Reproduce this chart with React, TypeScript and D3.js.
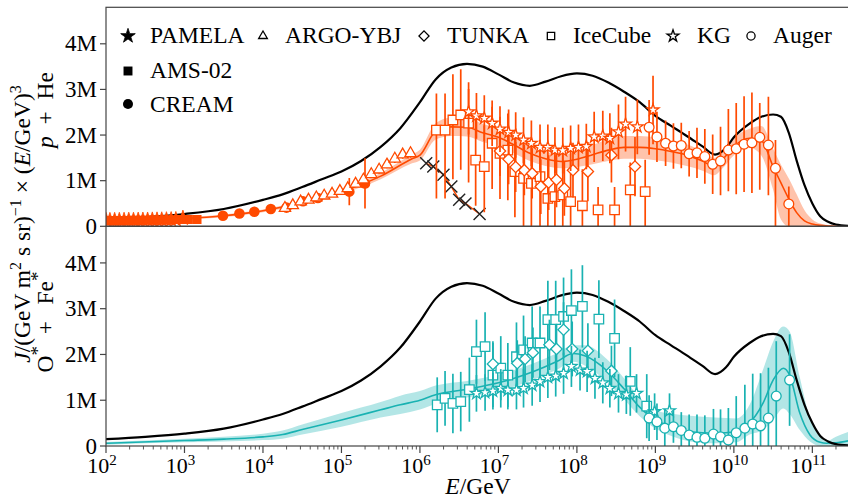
import React from "react";
import * as d3 from "d3";

// ---------------- data: energies as log10(E/GeV), fluxes in units of 1e6 ----------------
const totalLg = [2.0, 2.5, 3.0, 3.5, 4.0, 4.25, 4.5, 4.75, 5.0, 5.25, 5.5, 5.75, 6.0, 6.2, 6.4, 6.6, 6.8, 7.0, 7.2, 7.4, 7.6, 7.8, 8.0, 8.2, 8.4, 8.6, 8.8, 9.0, 9.2, 9.4, 9.6, 9.76, 9.9, 10.0, 10.2, 10.35, 10.5, 10.6, 10.7, 10.8, 10.9, 11.0, 11.1, 11.2, 11.3, 11.48];
const totalVal = [0.15, 0.2, 0.27, 0.38, 0.58, 0.7, 0.86, 1.03, 1.2, 1.43, 1.74, 2.15, 2.72, 3.22, 3.48, 3.56, 3.5, 3.33, 3.15, 3.08, 3.17, 3.29, 3.35, 3.3, 3.15, 2.95, 2.72, 2.42, 2.2, 1.98, 1.75, 1.57, 1.72, 1.95, 2.25, 2.4, 2.45, 2.4, 2.05, 1.44, 0.9, 0.5, 0.22, 0.1, 0.04, 0.01];

const phModelLg = [2.0, 2.5, 3.0, 3.5, 4.0, 4.5, 5.0, 5.5, 5.9, 6.0, 6.2, 6.4, 6.6, 6.8, 7.0, 7.2, 7.4, 7.6, 7.8, 8.0, 8.2, 8.4, 8.6, 8.8, 9.0, 9.2, 9.4, 9.6, 9.75, 9.85, 10.0, 10.2, 10.35, 10.5, 10.6, 10.7, 10.8, 10.9, 11.0, 11.1, 11.3, 11.48];
const phModelMid = [0.12, 0.14, 0.17, 0.23, 0.34, 0.52, 0.76, 1.1, 1.48, 1.56, 2.08, 2.18, 2.17, 2.05, 1.95, 1.78, 1.6, 1.48, 1.42, 1.47, 1.57, 1.67, 1.73, 1.73, 1.7, 1.64, 1.56, 1.43, 1.31, 1.45, 1.75, 1.93, 1.88, 1.31, 0.95, 0.6, 0.3, 0.12, 0.05, 0.02, 0.0, 0.0];
const phModelLo = [0.1, 0.12, 0.15, 0.2, 0.31, 0.48, 0.71, 1.03, 1.38, 1.44, 1.9, 1.98, 1.97, 1.85, 1.76, 1.6, 1.43, 1.32, 1.27, 1.3, 1.36, 1.43, 1.48, 1.48, 1.45, 1.4, 1.32, 1.22, 1.12, 1.26, 1.56, 1.72, 1.55, 0.8, 0.15, 0.0, 0.0, 0.0, 0.0, 0.0, 0.0, 0.0];
const phModelHi = [0.14, 0.16, 0.19, 0.26, 0.37, 0.56, 0.81, 1.17, 1.58, 1.68, 2.26, 2.38, 2.37, 2.25, 2.14, 1.96, 1.77, 1.64, 1.57, 1.64, 1.78, 1.91, 1.98, 1.98, 1.95, 1.88, 1.8, 1.64, 1.5, 1.64, 1.94, 2.14, 2.2, 1.7, 1.35, 1.05, 0.7, 0.35, 0.15, 0.06, 0.01, 0.0];

const ofModelLg = [2.0, 3.0, 3.5, 4.0, 4.25, 4.5, 5.0, 5.5, 5.75, 6.0, 6.2, 6.6, 7.0, 7.44, 7.75, 7.95, 8.1, 8.38, 8.6, 8.8, 9.0, 9.23, 9.44, 9.76, 10.03, 10.2, 10.37, 10.5, 10.63, 10.71, 10.84, 10.97, 11.1, 11.18, 11.3, 11.48];
const ofModelMid = [0.06, 0.12, 0.15, 0.2, 0.25, 0.36, 0.57, 0.79, 0.9, 1.0, 1.12, 1.24, 1.38, 1.62, 1.85, 2.02, 1.97, 1.65, 1.25, 0.85, 0.57, 0.42, 0.31, 0.28, 0.31, 0.5, 0.93, 1.44, 1.7, 1.55, 0.72, 0.24, 0.08, 0.06, 0.07, 0.12];
const ofModelLo = [0.03, 0.08, 0.1, 0.13, 0.16, 0.25, 0.42, 0.62, 0.7, 0.8, 0.92, 1.06, 1.2, 1.44, 1.67, 1.84, 1.76, 1.4, 1.02, 0.65, 0.38, 0.2, 0.1, 0.06, 0.08, 0.25, 0.35, 0.57, 0.82, 0.7, 0.35, 0.1, 0.0, 0.0, 0.0, 0.0];
const ofModelHi = [0.09, 0.16, 0.2, 0.27, 0.34, 0.47, 0.72, 0.96, 1.1, 1.2, 1.32, 1.42, 1.56, 1.8, 2.03, 2.2, 2.2, 1.9, 1.48, 1.05, 0.78, 0.7, 0.66, 0.62, 0.6, 0.9, 1.66, 2.28, 2.61, 2.5, 1.5, 0.6, 0.2, 0.1, 0.2, 0.32];

// p + He data
const pamelaLg = [2.0, 2.05, 2.11, 2.17, 2.23, 2.29, 2.35, 2.41, 2.47, 2.53, 2.59, 2.65, 2.71, 2.77, 2.83, 2.89, 2.98];
const pamelaVal = [0.13, 0.13, 0.131, 0.132, 0.133, 0.134, 0.134, 0.136, 0.137, 0.138, 0.14, 0.141, 0.143, 0.145, 0.147, 0.15, 0.18];
const amsLg = [2.02, 2.08, 2.14, 2.2, 2.26, 2.32, 2.38, 2.44, 2.5, 2.56, 2.62, 2.68, 2.74, 2.8, 2.86, 2.92, 2.98, 3.05, 3.16];
const amsVal = [0.125, 0.126, 0.127, 0.128, 0.13, 0.131, 0.132, 0.133, 0.135, 0.137, 0.138, 0.14, 0.142, 0.144, 0.146, 0.148, 0.15, 0.15, 0.15];
const creamLg = [3.49, 3.7, 3.89, 4.1, 4.3, 4.51, 4.7, 5.1, 5.3];
const creamVal = [0.23, 0.28, 0.32, 0.38, 0.41, 0.55, 0.62, 0.76, 0.94];
const creamErr = [0.02, 0.02, 0.03, 0.03, 0.04, 0.05, 0.06, 0.3, 0.55];
const argoLg = [4.28, 4.38, 4.48, 4.58, 4.68, 4.78, 4.88, 4.98, 5.08, 5.18, 5.28, 5.38, 5.48, 5.58, 5.68, 5.78, 5.88];
const argoVal = [0.4, 0.46, 0.54, 0.58, 0.63, 0.67, 0.71, 0.77, 0.83, 0.93, 1.02, 1.14, 1.24, 1.35, 1.48, 1.57, 1.6];
const argoErr = [0.03, 0.03, 0.03, 0.04, 0.04, 0.04, 0.05, 0.05, 0.06, 0.06, 0.07, 0.07, 0.08, 0.08, 0.09, 0.09, 0.1];
const crossLg = [6.08, 6.17, 6.3, 6.4, 6.5, 6.58, 6.76];
const crossVal = [1.38, 1.31, 1.13, 0.87, 0.58, 0.5, 0.27];
const icePhLg = [6.21, 6.32, 6.42, 6.52, 6.62, 6.71, 6.82, 6.92, 7.02, 7.12, 7.21, 7.32, 7.42, 7.53, 7.63, 7.72, 7.82, 7.92, 8.07, 8.27, 8.48, 8.68, 8.87];
const icePhVal = [2.11, 2.11, 2.33, 2.44, 2.26, 1.45, 1.31, 1.82, 1.6, 1.67, 1.2, 1.05, 0.94, 1.09, 0.61, 0.65, 0.69, 0.54, 0.45, 0.36, 0.36, 0.8, 0.76];
const icePhLo = [1.5, 1.5, 1.3, 1.2, 1.3, 1.0, 1.0, 1.0, 1.0, 1.1, 1.0, 1.05, 0.94, 1.09, 0.61, 0.65, 0.69, 0.54, 0.45, 0.36, 0.36, 0.8, 0.76];
const icePhHi = [0.8, 0.8, 1.0, 1.0, 0.9, 0.9, 0.9, 0.8, 0.8, 0.8, 0.8, 0.8, 0.8, 0.8, 0.9, 0.9, 0.9, 0.9, 0.8, 0.5, 0.5, 0.6, 0.7];
const tunkaPhLg = [7.02, 7.13, 7.22, 7.33, 7.43, 7.54, 7.64, 7.74, 7.84, 7.95, 8.14, 8.44, 8.74];
const tunkaPhVal = [1.65, 1.47, 1.3, 1.23, 1.16, 0.87, 0.96, 1.02, 0.83, 1.23, 1.2, 1.56, 1.31];
const tunkaPhErr = [0.55, 0.55, 0.55, 0.55, 0.55, 0.6, 0.6, 0.6, 0.6, 0.6, 0.65, 0.6, 0.65];
const kgPhLg = [6.62, 6.72, 6.82, 6.92, 7.02, 7.13, 7.22, 7.32, 7.42, 7.53, 7.63, 7.72, 7.82, 7.92, 8.02, 8.12, 8.22, 8.33, 8.42, 8.53, 8.62, 8.77, 8.97];
const kgPhVal = [2.51, 2.42, 2.37, 2.26, 2.13, 2.06, 2.0, 1.89, 1.82, 1.73, 1.73, 1.67, 1.66, 1.71, 1.73, 1.75, 1.96, 1.98, 1.93, 2.07, 2.24, 2.18, 2.55];
const kgPhErr = [0.5, 0.5, 0.5, 0.5, 0.5, 0.5, 0.5, 0.5, 0.5, 0.5, 0.5, 0.5, 0.5, 0.5, 0.5, 0.5, 0.55, 0.55, 0.55, 0.6, 0.6, 0.6, 0.75];
const augerPhLg = [8.92, 9.02, 9.13, 9.23, 9.33, 9.43, 9.53, 9.63, 9.73, 9.83, 9.93, 10.03, 10.13, 10.23, 10.33, 10.44, 10.53, 10.7];
const augerPhVal = [2.17, 1.96, 1.82, 1.76, 1.77, 1.59, 1.61, 1.53, 1.36, 1.43, 1.67, 1.7, 1.8, 1.83, 1.95, 1.78, 1.27, 0.49];
const augerPhLo = [0.6, 0.55, 0.5, 0.5, 0.5, 0.5, 0.55, 0.6, 0.65, 0.75, 0.9, 1.0, 1.05, 1.1, 1.15, 1.1, 1.27, 0.49];
const augerPhHi = [0.6, 0.55, 0.5, 0.5, 0.5, 0.5, 0.55, 0.6, 0.65, 0.75, 0.9, 1.0, 1.05, 1.1, 0.75, 1.06, 0.62, 0.38];

// O* + Fe* data
const iceOfLg = [6.22, 6.32, 6.42, 6.52, 6.63, 6.72, 6.83, 6.93, 7.03, 7.12, 7.23, 7.32, 7.43, 7.53, 7.63, 7.73, 7.83, 7.93, 8.07, 8.28, 8.48, 8.68, 8.89];
const iceOfVal = [0.9, 1.04, 0.93, 0.97, 1.23, 2.06, 2.17, 1.55, 1.7, 1.55, 1.95, 2.1, 2.25, 2.25, 2.76, 2.76, 2.83, 2.96, 3.05, 2.77, 2.35, 1.41, 0.87];
const iceOfErr = [0.6, 0.6, 0.65, 0.65, 0.7, 0.7, 0.75, 0.7, 0.7, 0.7, 0.75, 0.75, 0.8, 0.8, 0.85, 0.85, 0.85, 0.9, 0.9, 0.85, 0.85, 0.75, 0.7];
const tunkaOfLg = [6.93, 7.24, 7.34, 7.44, 7.65, 7.74, 7.83, 7.94, 8.14, 8.44];
const tunkaOfVal = [1.79, 1.81, 1.9, 2.04, 2.21, 2.12, 2.54, 2.12, 2.08, 1.64];
const tunkaOfErr = [0.5, 0.5, 0.5, 0.55, 0.55, 0.55, 0.6, 0.6, 0.6, 0.55];
const kgOfLg = [6.72, 6.83, 6.93, 7.03, 7.12, 7.23, 7.32, 7.43, 7.53, 7.63, 7.73, 7.83, 7.93, 8.04, 8.13, 8.23, 8.33, 8.42, 8.53, 8.63, 8.76, 8.99, 9.18];
const kgOfVal = [1.15, 1.17, 1.2, 1.26, 1.22, 1.22, 1.26, 1.33, 1.41, 1.5, 1.53, 1.59, 1.74, 1.66, 1.63, 1.48, 1.38, 1.26, 1.15, 1.12, 1.15, 0.75, 0.77];
const kgOfErr = [0.4, 0.4, 0.4, 0.42, 0.42, 0.42, 0.42, 0.45, 0.45, 0.45, 0.45, 0.45, 0.45, 0.45, 0.45, 0.45, 0.45, 0.42, 0.42, 0.42, 0.42, 0.4, 0.38];
const augerOfLg = [8.92, 9.02, 9.12, 9.23, 9.33, 9.43, 9.53, 9.63, 9.74, 9.83, 9.93, 10.03, 10.14, 10.24, 10.34, 10.44, 10.54, 10.71];
const augerOfVal = [0.61, 0.53, 0.39, 0.42, 0.34, 0.24, 0.19, 0.17, 0.26, 0.2, 0.13, 0.29, 0.39, 0.48, 0.44, 0.61, 1.09, 1.44];
const augerOfErr = [0.5, 0.4, 0.4, 0.35, 0.4, 0.45, 0.5, 0.5, 0.55, 0.6, 0.7, 0.8, 0.95, 1.1, 1.15, 1.1, 1.2, 1.0];

const yTickVals = [0, 1, 2, 3, 4];
const yTickLabels = ["0", "1M", "2M", "3M", "4M"];
const xTickExps = [2, 3, 4, 5, 6, 7, 8, 9, 10, 11];
const legendRow = [
  { name: "PAMELA", kind: "starF", mx: 128, tx: 150, sc: 2.2 },
  { name: "ARGO-YBJ", kind: "triO", mx: 263, tx: 285, sc: 0.6 },
  { name: "TUNKA", kind: "diaO", mx: 424, tx: 447, sc: 0.8 },
  { name: "IceCube", kind: "sqO", mx: 551, tx: 573, sc: 0.6 },
  { name: "KG", kind: "starO", mx: 673, tx: 697, sc: 1.0 },
  { name: "Auger", kind: "circO", mx: 751, tx: 773, sc: 0.7 },
];
const legendCol = [
  { name: "AMS-02", kind: "sqF", my: 71, ty: 78, sc: 1.0 },
  { name: "CREAM", kind: "circF", my: 104, ty: 111.7, sc: 0.9 },
];

// ---------------- layout ----------------
const ORANGE = "#ff4a00";
const TEAL = "#19b2b2";
const AX = "#444";
const FONT = "'Liberation Serif', 'DejaVu Serif', serif";
const L = 106, R = 849.8;
const TOP_T = 7.3, TOP_B = 226.3, BOT_T = 226.3, BOT_B = 446;

const E = (lg: number) => Math.pow(10, lg);
const sym = (t: any, s: number) => d3.symbol().type(t).size(s)() as string;

function Marker({ kind, cx, cy, color, scale = 1 }: any) {
  const tr = `translate(${cx},${cy})`;
  const sw = 1.3;
  switch (kind) {
    case "starF":
      return <path d={sym(d3.symbolStar, 30 * scale)} transform={tr} fill={color} stroke={color} strokeWidth={0.8} />;
    case "sqF":
      return <path d={sym(d3.symbolSquare, 80 * scale)} transform={tr} fill={color} />;
    case "circF":
      return <circle cx={cx} cy={cy} r={5.3 * Math.sqrt(scale)} fill={color} />;
    case "triO":
      return <path d={sym(d3.symbolTriangle, 55 * scale)} transform={tr} fill="white" stroke={color} strokeWidth={sw} />;
    case "diaO":
      return <path d={sym(d3.symbolSquare, 64 * scale)} transform={`${tr} rotate(45)`} fill="white" stroke={color} strokeWidth={sw} />;
    case "sqO":
      return <path d={sym(d3.symbolSquare, 90 * scale)} transform={tr} fill="white" stroke={color} strokeWidth={sw} />;
    case "starO":
      return <path d={sym(d3.symbolStar, 44 * scale)} transform={tr} fill="white" stroke={color} strokeWidth={sw} />;
    case "circO":
      return <circle cx={cx} cy={cy} r={4.9 * Math.sqrt(scale)} fill="white" stroke={color} strokeWidth={sw} />;
    case "cross":
      return <path d="M-6,-6L6,6M-6,6L6,-6" transform={tr} stroke="#222" strokeWidth={1.4} fill="none" />;
  }
  return null;
}

function Series({ x, y, lg, val, lo, hi, kind, color, scale = 1 }: any) {
  return (
    <g>
      {lo &&
        lg.map((g: number, i: number) => (
          <line key={"e" + i} x1={x(E(g))} x2={x(E(g))} y1={y(Math.max(0, val[i] - lo[i]))} y2={y(val[i] + (hi ? hi[i] : lo[i]))} stroke={color} strokeWidth={1.7} />
        ))}
      {lg.map((g: number, i: number) => (
        <Marker key={"m" + i} kind={kind} cx={x(E(g))} cy={y(val[i])} color={color} scale={scale} />
      ))}
    </g>
  );
}

export default function App() {
  const x = d3.scaleLog().domain([1e2, 3e11]).range([L, R]);
  const yT = d3.scaleLinear().domain([0, 4.8]).range([TOP_B, TOP_T]);
  const yB = d3.scaleLinear().domain([0, 4.8]).range([BOT_B, BOT_T]);

  const lineOf = (y: any, lg: number[], v: number[]) =>
    d3.line<number>().x((_, i) => x(E(lg[i]))).y((_, i) => y(v[i])).curve(d3.curveMonotoneX)(v) as string;
  const areaOf = (y: any, lg: number[], lo: number[], hi: number[]) =>
    d3.area<number>().x((_, i) => x(E(lg[i]))).y0((_, i) => y(lo[i])).y1((_, i) => y(hi[i])).curve(d3.curveMonotoneX)(lo) as string;

  const minor: number[] = [];
  for (let p = 2; p <= 11; p++) for (let m = 2; m <= 9; m++) { const v = m * Math.pow(10, p); if (v <= 3e11) minor.push(v); }

  return (
    <svg width={848} height={499} style={{ position: "absolute", left: 0, top: 0, background: "white" }} fontFamily={FONT}>
      <defs>
        <clipPath id="clipT"><rect x={L} y={TOP_T} width={R - L} height={TOP_B - TOP_T} /></clipPath>
        <clipPath id="clipB"><rect x={L} y={BOT_T} width={R - L} height={BOT_B - BOT_T} /></clipPath>
      </defs>
      <rect width={848} height={499} fill="white" />

      {/* top panel */}
      <g clipPath="url(#clipT)">
        <path d={areaOf(yT, phModelLg, phModelLo, phModelHi)} fill={ORANGE} fillOpacity={0.33} />
        <path d={lineOf(yT, phModelLg, phModelMid)} fill="none" stroke={ORANGE} strokeWidth={1.6} />
        <path d={lineOf(yT, totalLg, totalVal)} fill="none" stroke="#000" strokeWidth={2.2} />
        <Series x={x} y={yT} lg={amsLg} val={amsVal} kind="sqF" color={ORANGE} />
        <Series x={x} y={yT} lg={pamelaLg} val={pamelaVal} kind="starF" color={ORANGE} scale={2.4} />
        <Series x={x} y={yT} lg={creamLg} val={creamVal} lo={creamErr} kind="circF" color={ORANGE} />
        <Series x={x} y={yT} lg={argoLg} val={argoVal} lo={argoErr} kind="triO" color={ORANGE} />
        <path d={d3.line<number>().x((_, i) => x(E(crossLg[i]))).y((_, i) => yT(crossVal[i]))(crossVal) as string} fill="none" stroke={ORANGE} strokeWidth={1.5} />
        <Series x={x} y={yT} lg={crossLg} val={crossVal} kind="cross" color={ORANGE} />
        <Series x={x} y={yT} lg={icePhLg} val={icePhVal} lo={icePhLo} hi={icePhHi} kind="sqO" color={ORANGE} />
        <Series x={x} y={yT} lg={tunkaPhLg} val={tunkaPhVal} lo={tunkaPhErr} kind="diaO" color={ORANGE} />
        <Series x={x} y={yT} lg={kgPhLg} val={kgPhVal} lo={kgPhErr} kind="starO" color={ORANGE} />
        <Series x={x} y={yT} lg={augerPhLg} val={augerPhVal} lo={augerPhLo} hi={augerPhHi} kind="circO" color={ORANGE} />
      </g>

      {/* bottom panel */}
      <g clipPath="url(#clipB)">
        <path d={areaOf(yB, ofModelLg, ofModelLo, ofModelHi)} fill={TEAL} fillOpacity={0.33} />
        <path d={lineOf(yB, ofModelLg, ofModelMid)} fill="none" stroke={TEAL} strokeWidth={1.6} />
        <path d={lineOf(yB, totalLg, totalVal)} fill="none" stroke="#000" strokeWidth={2.2} />
        <Series x={x} y={yB} lg={iceOfLg} val={iceOfVal} lo={iceOfErr} kind="sqO" color={TEAL} />
        <Series x={x} y={yB} lg={tunkaOfLg} val={tunkaOfVal} lo={tunkaOfErr} kind="diaO" color={TEAL} />
        <Series x={x} y={yB} lg={kgOfLg} val={kgOfVal} lo={kgOfErr} kind="starO" color={TEAL} />
        <Series x={x} y={yB} lg={augerOfLg} val={augerOfVal} lo={augerOfErr} kind="circO" color={TEAL} />
      </g>

      {/* frames */}
      <rect x={L} y={TOP_T} width={R - L} height={TOP_B - TOP_T} fill="none" stroke={AX} strokeWidth={1.2} />
      <rect x={L} y={BOT_T} width={R - L} height={BOT_B - BOT_T} fill="none" stroke={AX} strokeWidth={1.2} />

      {/* y ticks */}
      {[yT, yB].map((y, k) => (
        <g key={"yt" + k}>
          {yTickVals.map((v, i) => (
            <g key={i}>
              <line x1={L - 6} x2={L} y1={y(v)} y2={y(v)} stroke={AX} strokeWidth={1.2} />
              <text x={97} y={y(v) + 7.6} textAnchor="end" fontSize={23}>{yTickLabels[i]}</text>
            </g>
          ))}
        </g>
      ))}

      {/* x ticks */}
      {minor.map((v, i) => (
        <line key={"mn" + i} x1={x(v)} x2={x(v)} y1={BOT_B} y2={BOT_B + 3.5} stroke={AX} strokeWidth={0.9} />
      ))}
      {xTickExps.map((p) => (
        <g key={"xt" + p}>
          <line x1={x(E(p))} x2={x(E(p))} y1={BOT_B} y2={BOT_B + 7} stroke={AX} strokeWidth={1.2} />
          <text x={x(E(p)) - 4} y={473} textAnchor="middle" fontSize={22}>
            10<tspan dy={-8.5} fontSize={15}>{p}</tspan>
          </text>
        </g>
      ))}

      {/* axis labels */}
      <text x={478} y={494} textAnchor="middle" fontSize={23.5}>
        <tspan fontStyle="italic">E</tspan>/GeV
      </text>
      <text transform="translate(30,224) rotate(-90)" textAnchor="middle" fontSize={23.5}>
        <tspan fontStyle="italic">J</tspan>
        <tspan>{"/(GeV m"}</tspan>
        <tspan dy={-9} fontSize={16}>2</tspan>
        <tspan dy={9}>{" s sr)"}</tspan>
        <tspan dy={-9} fontSize={16}>{"\u22121"}</tspan>
        <tspan dy={9}>{" \u00d7 ("}</tspan>
        <tspan fontStyle="italic">E</tspan>
        <tspan>{"/GeV)"}</tspan>
        <tspan dy={-9} fontSize={16}>3</tspan>
      </text>
      <text transform="translate(53,110) rotate(-90)" textAnchor="middle" fontSize={23.5}>
        <tspan fontStyle="italic">p</tspan>
        <tspan>{"\u2002+\u2002He"}</tspan>
      </text>
      <text transform="translate(53,322) rotate(-90)" textAnchor="middle" fontSize={23.5}>
        <tspan>O</tspan>
        <tspan dy={-9} fontSize={19}>*</tspan>
        <tspan dy={9}>{"\u2002+\u2009\u2002Fe"}</tspan>
        <tspan dy={-9} fontSize={19}>*</tspan>
      </text>

      {/* legend */}
      {legendRow.map((d) => (
        <g key={d.name}>
          <Marker kind={d.kind} cx={d.mx} cy={36} color="#000" scale={d.sc} />
          <text x={d.tx} y={43.3} fontSize={23.5}>{d.name}</text>
        </g>
      ))}
      {legendCol.map((d) => (
        <g key={d.name}>
          <Marker kind={d.kind} cx={128} cy={d.my} color="#000" scale={d.sc} />
          <text x={150} y={d.ty} fontSize={23.5}>{d.name}</text>
        </g>
      ))}
    </svg>
  );
}
